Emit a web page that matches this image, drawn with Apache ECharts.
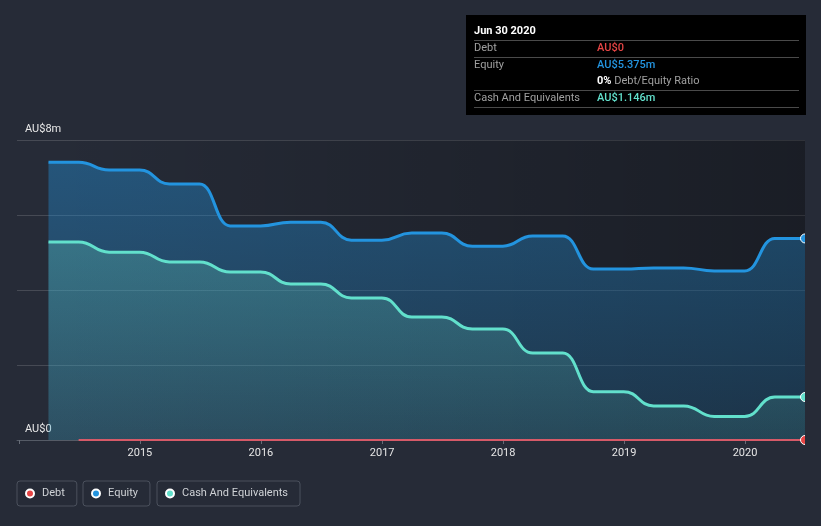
<!DOCTYPE html>
<html><head><meta charset="utf-8">
<script src="https://cdn.jsdelivr.net/npm/echarts@6/dist/echarts.min.js"></script>
<style>html,body{margin:0;padding:0;background:#262b37;}#c{width:821px;height:526px;}</style>
</head><body><div id="c"></div>
<script>
const dates = ['2014-03-31','2014-06-30','2014-09-30','2014-12-31','2015-03-31','2015-06-30','2015-09-30','2015-12-31','2016-03-31','2016-06-30','2016-09-30','2016-12-31','2017-03-31','2017-06-30','2017-09-30','2017-12-31','2018-03-31','2018-06-30','2018-09-30','2018-12-31','2019-03-31','2019-06-30','2019-09-30','2019-12-31','2020-03-31','2020-06-30'];
const equity = [7.41,7.41,7.20,7.20,6.83,6.83,5.71,5.71,5.81,5.81,5.33,5.33,5.52,5.52,5.17,5.17,5.44,5.44,4.56,4.56,4.59,4.59,4.51,4.51,5.375,5.375];
const cash = [5.28,5.28,5.01,5.01,4.75,4.75,4.48,4.48,4.16,4.16,3.79,3.79,3.28,3.28,2.96,2.96,2.32,2.32,1.29,1.29,0.91,0.91,0.63,0.63,1.146,1.146];
const debt = [null,0,0,0,0,0,0,0,0,0,0,0,0,0,0,0,0,0,0,0,0,0,0,0,0,0];
const firstLabelYear = 2015;
const axisStart = '2013-12-26';
const tipDate = 'Jun 30 2020';

const C_DEBT = '#e64545', C_EQ = '#2394df', C_CASH = '#62e0cc';
const FONT = 'Roboto, "Noto Sans", sans-serif';
const t = s => echarts.time.parse(s).getTime();
const pair = arr => dates.map((d, i) => [d, arr[i]]);
const last = dates.length - 1;
const endSym = (v, p) => p.dataIndex === last ? 'circle' : 'none';
const vgrad = (c0, c1) => ({ type: 'linear', x: 0, y: 0, x2: 0, y2: 1, colorStops: [{ offset: 0, color: c0 }, { offset: 1, color: c1 }] });

const chart = echarts.init(document.getElementById('c'));
const legendCommon = {
  orient: 'horizontal', icon: 'circle', itemWidth: 14, itemHeight: 8,
  padding: [7, 12, 7, 8], borderColor: '#4b515d', borderWidth: 1, borderRadius: 3,
  top: 481, selectedMode: false,
  textStyle: { color: '#cfd2d6', fontSize: 11, fontFamily: FONT }
};
const eqTxt = 'AU$' + equity[last].toFixed(3) + 'm';
const cashTxt = 'AU$' + cash[last].toFixed(3) + 'm';
const debtTxt = 'AU$' + debt[last];
const ratioTxt = Math.round(debt[last] / equity[last] * 100) + '%';

const sep = y => ({ type: 'line', z: 101, shape: { x1: 474, y1: y, x2: 799, y2: y }, style: { stroke: '#4a4a4a', lineWidth: 1 } });
const txt = (x, y, text, fill, weight) => ({ type: 'text', z: 101, x: x, y: y, style: { text: text, fill: fill, fontSize: 11, fontWeight: weight || 'normal', fontFamily: FONT, verticalAlign: 'middle' } });

chart.setOption({
  backgroundColor: '#262b37',
  animation: false,
  grid: { left: 17, right: 16, top: 140, bottom: 86, containLabel: false },
  xAxis: {
    type: 'time', min: t(axisStart), max: t(dates[last]),
    axisLine: { show: true, lineStyle: { color: '#555b66', width: 1 } },
    axisTick: { show: true, length: 4, lineStyle: { color: '#666c77' } },
    axisLabel: { color: '#e6e6e6', fontSize: 11, fontFamily: FONT, margin: 8, showMinLabel: false, showMaxLabel: false,
      formatter: v => { const d = new Date(v); return (d.getMonth() === 0 && d.getDate() === 1 && d.getFullYear() >= firstLabelYear) ? String(d.getFullYear()) : ''; } },
    splitLine: { show: false }
  },
  yAxis: {
    type: 'value', min: 0, max: 8, interval: 2,
    axisLine: { show: false }, axisTick: { show: false },
    splitLine: { show: true, lineStyle: { color: 'rgba(255,255,255,0.15)', width: 1 } },
    axisLabel: { inside: true, margin: 8, color: '#e8e8e8', fontSize: 11, fontFamily: FONT, verticalAlign: 'bottom', padding: [0, 0, 5, 0],
      formatter: v => v === 0 ? 'AU$0' : (v === 8 ? 'AU$8m' : '') }
  },
  legend: [
    Object.assign({ data: ['Debt'], left: 17 }, legendCommon),
    Object.assign({ data: ['Equity'], left: 83 }, legendCommon),
    Object.assign({ data: ['Cash And Equivalents'], left: 157 }, legendCommon)
  ],
  series: [
    { name: 'equityArea', type: 'line', z: 1, silent: true, data: pair(equity), smooth: 0.5, smoothMonotone: 'x', symbol: 'none',
      lineStyle: { width: 0, opacity: 0 }, areaStyle: { color: vgrad('rgba(35,148,223,0.40)', 'rgba(35,148,223,0.18)'), opacity: 1 } },
    { name: 'cashArea', type: 'line', z: 1, silent: true, data: pair(cash), smooth: 0.5, smoothMonotone: 'x', symbol: 'none',
      lineStyle: { width: 0, opacity: 0 }, areaStyle: { color: vgrad('rgba(98,200,185,0.30)', 'rgba(98,200,185,0.12)'), opacity: 1 } },
    { name: 'shade', type: 'line', z: 2, silent: true, data: pair(debt), symbol: 'none', lineStyle: { width: 0, opacity: 0 },
      markArea: { silent: true, itemStyle: { color: { type: 'linear', x: 0, y: 0, x2: 1, y2: 0,
        colorStops: [{ offset: 0, color: 'rgba(0,0,0,0)' }, { offset: 1, color: 'rgba(0,0,0,0.32)' }] } },
        data: [[{ xAxis: dates[0], yAxis: 0 }, { xAxis: dates[last], yAxis: 8 }]] } },
    { name: 'Debt', type: 'line', z: 3, data: pair(debt), color: C_DEBT, symbol: endSym, symbolSize: 9, showAllSymbol: true,
      itemStyle: { color: C_DEBT, borderColor: '#fff', borderWidth: 1 }, lineStyle: { color: '#d65a68', width: 2 } },
    { name: 'Equity', type: 'line', z: 3, data: pair(equity), color: C_EQ, smooth: 0.5, smoothMonotone: 'x', symbol: endSym, symbolSize: 9, showAllSymbol: true,
      itemStyle: { color: C_EQ, borderColor: '#fff', borderWidth: 1 }, lineStyle: { color: C_EQ, width: 3 } },
    { name: 'Cash And Equivalents', type: 'line', z: 3, data: pair(cash), color: C_CASH, smooth: 0.5, smoothMonotone: 'x', symbol: endSym, symbolSize: 9, showAllSymbol: true,
      itemStyle: { color: C_CASH, borderColor: '#fff', borderWidth: 1 }, lineStyle: { color: C_CASH, width: 3 } }
  ],
  graphic: [
    { type: 'rect', z: 100, shape: { x: 805, y: 125, width: 16, height: 325 }, style: { fill: '#262b37' } },
    { type: 'rect', z: 100, shape: { x: 466, y: 15, width: 340, height: 100 }, style: { fill: '#000' } },
    txt(474, 31, tipDate, '#ffffff', 'bold'),
    sep(40.5),
    txt(474, 48.5, 'Debt', '#a0a0a0'),
    txt(597, 48.5, debtTxt, C_DEBT, 500),
    sep(57.5),
    txt(474, 65, 'Equity', '#a0a0a0'),
    txt(597, 65, eqTxt, C_EQ, 500),
    { type: 'text', z: 101, x: 597, y: 81, style: { text: '{b|' + ratioTxt + '} {g|Debt/Equity Ratio}', verticalAlign: 'middle', fontSize: 11, fontFamily: FONT,
      rich: { b: { fill: '#ffffff', fontWeight: 'bold', fontSize: 11, fontFamily: FONT }, g: { fill: '#a0a0a0', fontSize: 11, fontFamily: FONT } } } },
    sep(90.5),
    txt(474, 98, 'Cash And Equivalents', '#a0a0a0'),
    txt(597, 98, cashTxt, C_CASH, 500),
    sep(107.5)
  ]
});
</script></body></html>
